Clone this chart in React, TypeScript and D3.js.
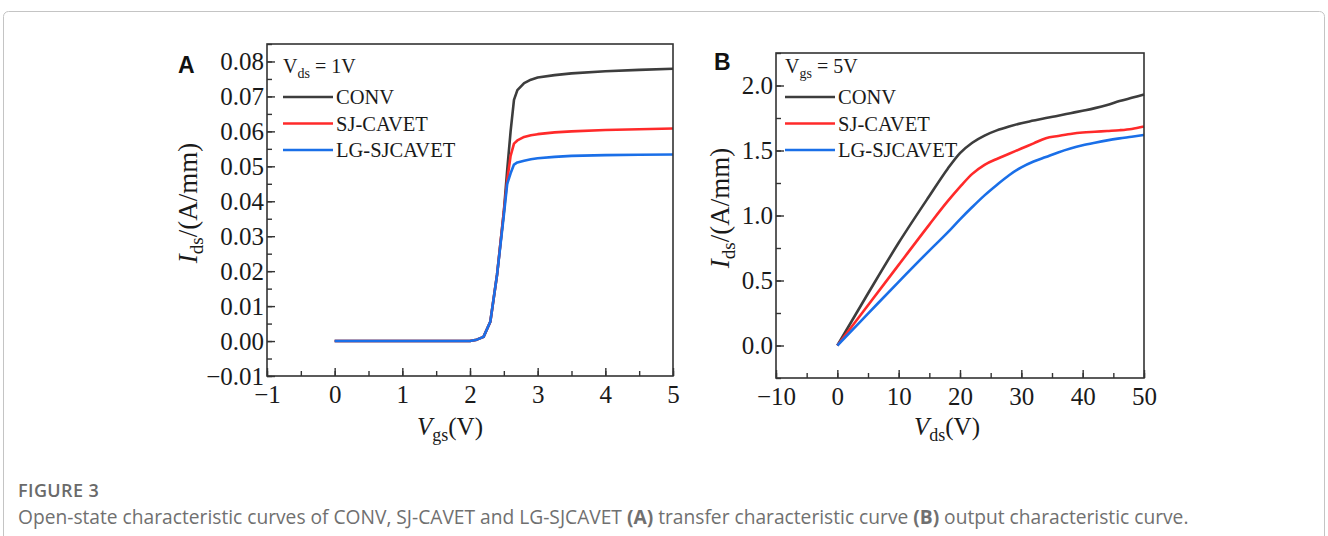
import React, { useEffect, useRef } from "react";
import * as d3 from "d3";

// ---------- Data ----------
// Panel A: transfer characteristic, Vds = 1 V
const VGS = [0, 0.5, 1, 1.5, 2.0, 2.1, 2.2, 2.3, 2.4, 2.5, 2.55, 2.6, 2.65, 2.7, 2.8, 2.9, 3.0, 3.25, 3.5, 4.0, 4.5, 5.0];
const A_CONV = [0, 0, 0, 0, 0, 0.0004, 0.0012, 0.0055, 0.019, 0.037, 0.049, 0.06, 0.069, 0.0718, 0.0738, 0.0748, 0.0754, 0.0761, 0.0766, 0.0772, 0.0776, 0.0779];
const A_SJ = [0, 0, 0, 0, 0, 0.0004, 0.0012, 0.0055, 0.019, 0.037, 0.046, 0.053, 0.0565, 0.0574, 0.0584, 0.0589, 0.0592, 0.0597, 0.06, 0.0604, 0.0606, 0.0608];
const A_LG = [0, 0, 0, 0, 0, 0.0004, 0.0012, 0.0055, 0.019, 0.036, 0.045, 0.048, 0.0505, 0.0511, 0.0516, 0.052, 0.0523, 0.0527, 0.053, 0.0532, 0.0533, 0.0534];

// Panel B: output characteristic, Vgs = 5 V
const VDS = [0, 5, 10, 15, 18, 20, 22, 24, 26, 28, 30, 32, 34, 36, 38, 40, 42, 44, 46, 48, 50];
const B_CONV = [0, 0.4, 0.79, 1.15, 1.36, 1.48, 1.56, 1.615, 1.655, 1.685, 1.71, 1.73, 1.75, 1.768, 1.787, 1.806, 1.826, 1.85, 1.88, 1.905, 1.93];
const B_SJ = [0, 0.31, 0.62, 0.93, 1.11, 1.22, 1.32, 1.39, 1.435, 1.475, 1.515, 1.555, 1.595, 1.612, 1.627, 1.638, 1.644, 1.65, 1.656, 1.666, 1.685];
const B_LG = [0, 0.245, 0.49, 0.73, 0.87, 0.97, 1.065, 1.155, 1.235, 1.31, 1.37, 1.415, 1.45, 1.485, 1.515, 1.54, 1.56, 1.578, 1.593, 1.606, 1.62];

const SERIES_NAMES = ["CONV", "SJ-CAVET", "LG-SJCAVET"];
const SERIES_COLORS = ["#3d3d3d", "#ff2a2a", "#1a6fe8"];

const A_X_TICKS = [-1, 0, 1, 2, 3, 4, 5];
const A_Y_TICKS = [-0.01, 0, 0.01, 0.02, 0.03, 0.04, 0.05, 0.06, 0.07, 0.08];
const B_X_TICKS = [-10, 0, 10, 20, 30, 40, 50];
const B_Y_TICKS = [0, 0.5, 1.0, 1.5, 2.0];

const SERIF = "'Liberation Serif', 'Times New Roman', serif";
const SANS = "'Liberation Sans', Arial, sans-serif";
const CAPTION_FONT = "'Open Sans', 'Noto Sans', sans-serif";

type PanelCfg = {
  left: number; right: number; top: number; bottom: number;
  xDomain: [number, number]; yDomain: [number, number];
  xTicks: number[]; yTicks: number[]; xMinorStep: number; yMinorStep: number;
  xFmt: (v: number) => string; yFmt: (v: number) => string;
};

const fmtInt = d3.format("d");
const fmt2 = d3.format(".2f");
const fmt1 = d3.format(".1f");

const PANEL_A: PanelCfg = {
  left: 267, right: 673, top: 44, bottom: 376,
  xDomain: [-1, 5], yDomain: [-0.01, 0.085],
  xTicks: A_X_TICKS, yTicks: A_Y_TICKS, xMinorStep: 0.5, yMinorStep: 0.005,
  xFmt: (v) => fmtInt(v), yFmt: (v) => fmt2(v),
};
const PANEL_B: PanelCfg = {
  left: 776, right: 1144, top: 53, bottom: 378,
  xDomain: [-10, 50], yDomain: [-0.25, 2.25],
  xTicks: B_X_TICKS, yTicks: B_Y_TICKS, xMinorStep: 5, yMinorStep: 0.25,
  xFmt: (v) => fmtInt(v), yFmt: (v) => fmt1(v),
};

function scalesFor(p: PanelCfg) {
  const x = d3.scaleLinear().domain(p.xDomain).range([p.left, p.right]);
  const y = d3.scaleLinear().domain(p.yDomain).range([p.bottom, p.top]);
  return { x, y };
}

function minorValues(domain: [number, number], step: number) {
  const out: number[] = [];
  const n0 = Math.ceil(domain[0] / step - 1e-9);
  const n1 = Math.floor(domain[1] / step + 1e-9);
  for (let i = n0; i <= n1; i++) out.push(+(i * step).toFixed(6));
  return out;
}

function Axes({ p }: { p: PanelCfg }) {
  const ref = useRef<SVGGElement>(null);
  useEffect(() => {
    const g = d3.select(ref.current);
    g.selectAll("*").remove();
    const { x, y } = scalesFor(p);
    g.append("g")
      .attr("transform", `translate(0,${p.bottom})`)
      .call(d3.axisBottom(x).tickValues(minorValues(p.xDomain, p.xMinorStep)).tickSize(-5).tickSizeOuter(0).tickFormat(() => ""));
    g.append("g")
      .attr("transform", `translate(${p.left},0)`)
      .call(d3.axisLeft(y).tickValues(minorValues(p.yDomain, p.yMinorStep)).tickSize(-5).tickSizeOuter(0).tickFormat(() => ""));
    const gx = g.append("g")
      .attr("transform", `translate(0,${p.bottom})`)
      .call(d3.axisBottom(x).tickValues(p.xTicks).tickSize(-8).tickSizeOuter(0).tickPadding(9).tickFormat((v) => p.xFmt(v as number)));
    const gy = g.append("g")
      .attr("transform", `translate(${p.left},0)`)
      .call(d3.axisLeft(y).tickValues(p.yTicks).tickSize(-8).tickSizeOuter(0).tickPadding(3).tickFormat((v) => p.yFmt(v as number)));
    for (const a of [gx, gy]) {
      a.attr("font-family", SERIF).attr("font-size", 25);
      a.selectAll("text").attr("fill", "#1a1a1a");
    }
    g.selectAll(".domain").remove();
    g.selectAll(".tick line").attr("stroke", "#333").attr("stroke-width", 1.4);
  }, [p]);
  return <g ref={ref} />;
}

function Panel({ p, xs, series, curve, legendTitle, legendSub, legendRest, letter, letterPos, legendX, legendY0, xLabel, xLabelX, yLabelX, yLabelY }: any) {
  const { x, y } = scalesFor(p);
  const line = d3.line<[number, number]>().x((d) => x(d[0])).y((d) => y(d[1])).curve(curve);
  return (
    <g>
      {series.map((vals: number[], i: number) => (
        <path key={i} d={line(xs.map((v: number, j: number) => [v, vals[j]]) as [number, number][]) || ""}
          fill="none" stroke={SERIES_COLORS[i]} strokeWidth={2.6} strokeLinejoin="round" />
      ))}
      <rect x={p.left} y={p.top} width={p.right - p.left} height={p.bottom - p.top} fill="none" stroke="#333" strokeWidth={1.6} />
      <Axes p={p} />
      <text x={letterPos[0]} y={letterPos[1]} fontFamily={SANS} fontWeight="bold" fontSize={23} fill="#111">{letter}</text>
      <text x={legendX} y={legendY0} fontFamily={SERIF} fontSize={20} fill="#1a1a1a">
        <tspan>{legendTitle}</tspan>
        <tspan dy={5} fontSize={14}>{legendSub}</tspan>
        <tspan dy={-5}>{legendRest}</tspan>
      </text>
      {SERIES_NAMES.map((name, i) => {
        const ly = legendY0 + 24 + i * 26.5;
        return (
          <g key={name}>
            <line x1={legendX} x2={legendX + 50} y1={ly} y2={ly} stroke={SERIES_COLORS[i]} strokeWidth={2.6} />
            <text x={legendX + 53} y={ly + 7} fontFamily={SERIF} fontSize={20.5} fill="#1a1a1a">{name}</text>
          </g>
        );
      })}
      <text x={xLabelX} y={435} textAnchor="middle" fontFamily={SERIF} fontSize={25} fill="#1a1a1a">
        <tspan fontStyle="italic">V</tspan>
        <tspan dy={6} fontSize={18}>{xLabel}</tspan>
        <tspan dy={-6}>(V)</tspan>
      </text>
      <text transform={`translate(${yLabelX},${yLabelY}) rotate(-90)`} textAnchor="middle" fontFamily={SERIF} fontSize={27} fill="#1a1a1a">
        <tspan fontStyle="italic">I</tspan>
        <tspan dy={6} fontSize={19}>ds</tspan>
        <tspan dy={-6}>/(A/mm)</tspan>
      </text>
    </g>
  );
}

export default function App() {
  return (
    <svg width={1328} height={536} style={{ position: "absolute", left: 0, top: 0, background: "#fff" }}>
      <rect x={3.5} y={11.5} width={1321} height={600} rx={5} fill="#fff" stroke="#c4c4c4" strokeWidth={1} />
      <Panel p={PANEL_A} xs={VGS} series={[A_CONV, A_SJ, A_LG]} curve={d3.curveLinear}
        legendTitle="V" legendSub="ds" legendRest=" = 1V" letter="A" letterPos={[178, 73]}
        legendX={283} legendY0={73} xLabel="gs" xLabelX={450} yLabelX={197} yLabelY={203} />
      <Panel p={PANEL_B} xs={VDS} series={[B_CONV, B_SJ, B_LG]} curve={d3.curveMonotoneX}
        legendTitle="V" legendSub="gs" legendRest=" = 5V" letter="B" letterPos={[714, 70]}
        legendX={785} legendY0={73} xLabel="ds" xLabelX={947} yLabelX={729} yLabelY={208} />
      <text x={18} y={497} fontFamily={CAPTION_FONT} fontWeight="600" fontSize={18} letterSpacing={0.4} fill="#6a6a6a">FIGURE 3</text>
      <text x={18} y={524} fontFamily={CAPTION_FONT} fontSize={19.2} fill="#707070">
        Open-state characteristic curves of CONV, SJ-CAVET and LG-SJCAVET <tspan fontWeight="bold">(A)</tspan> transfer characteristic curve <tspan fontWeight="bold">(B)</tspan> output characteristic curve.
      </text>
    </svg>
  );
}
